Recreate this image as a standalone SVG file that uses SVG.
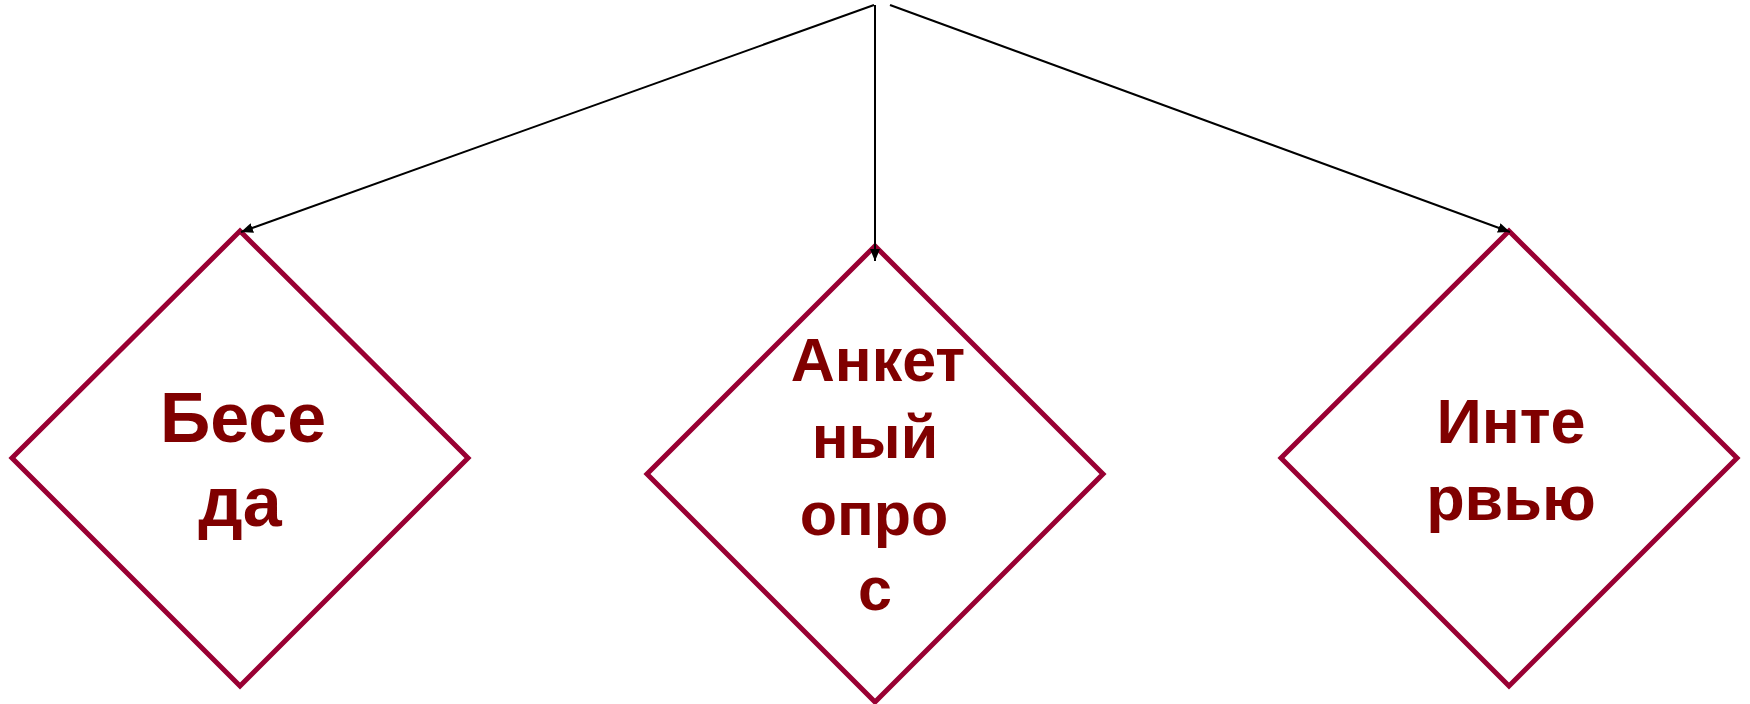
<svg xmlns="http://www.w3.org/2000/svg" width="1750" height="704" viewBox="0 0 1750 704">
<style>
.d{fill:#fff;stroke:#990033;stroke-width:5}
.t{font-family:"Liberation Sans",Arial,sans-serif;font-weight:bold;fill:#800000;text-anchor:middle}
.l{font-size:70px}
.m{font-size:61px}
.r{font-size:63px}
.c{stroke:#000;stroke-width:2;fill:none}
</style>
<defs>
<marker id="a" viewBox="0 0 12 10" refX="12" refY="5" markerWidth="12" markerHeight="10" markerUnits="userSpaceOnUse" orient="auto">
<path d="M0,0 L12,5 L0,10 Z" fill="#000"/>
</marker>
</defs>
<rect width="1750" height="704" fill="#fff"/>
<g id="n1">
<polygon class="d" points="240,231 468,458 240,686 12,458"/>
<text class="t l" x="243" y="442">Бесе</text>
<text class="t l" x="240" y="526">да</text>
</g>
<g id="n2">
<polygon class="d" points="875,246 1103,474 875,702 647,474"/>
<text class="t m" x="878" y="381">Анкет</text>
<text class="t m" x="875" y="458">ный</text>
<text class="t m" x="874" y="535">опро</text>
<text class="t m" x="875" y="610">с</text>
</g>
<g id="n3">
<polygon class="d" points="1509,231 1737,458 1509,686 1281,458"/>
<text class="t r" x="1511" y="443">Инте</text>
<text class="t r" x="1511" y="520">рвью</text>
</g>
<g id="connectors">
<line class="c" x1="874" y1="5" x2="241" y2="232" marker-end="url(#a)"/>
<line class="c" x1="875" y1="5" x2="875" y2="261" marker-end="url(#a)"/>
<line class="c" x1="890" y1="5" x2="1510" y2="232" marker-end="url(#a)"/>
</g>
</svg>
